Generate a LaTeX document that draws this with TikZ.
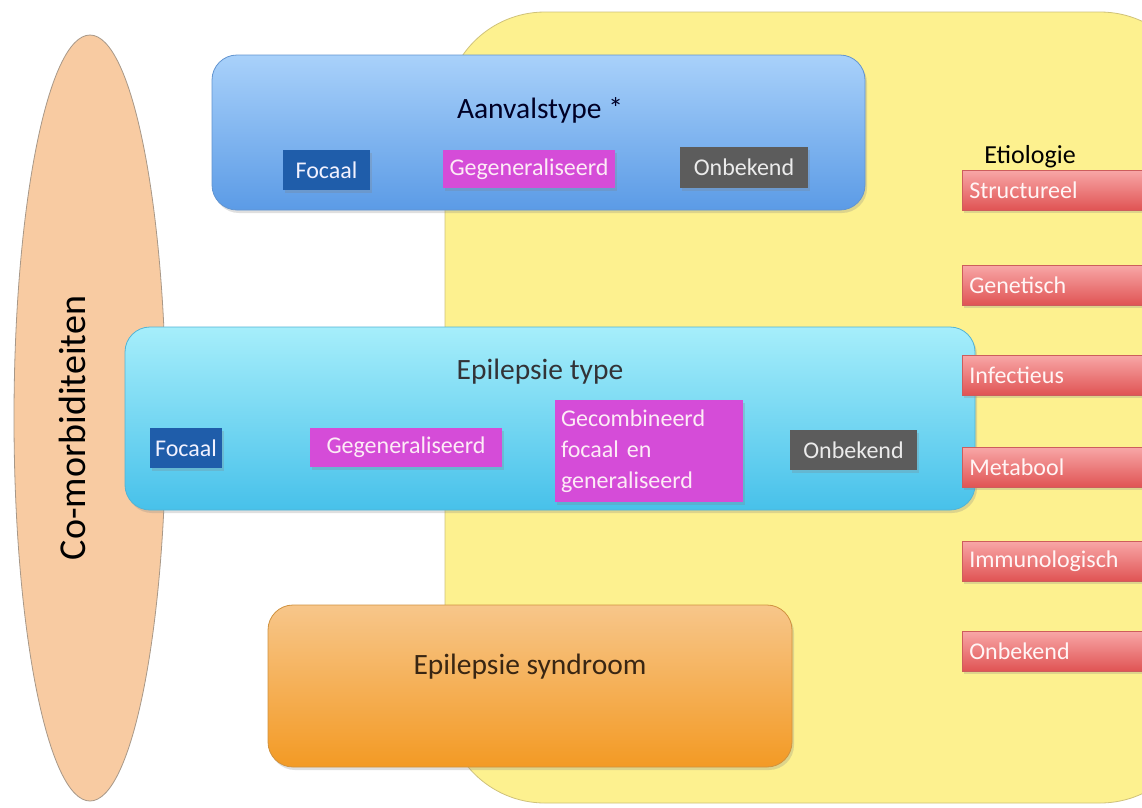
\documentclass[tikz,border=0pt]{standalone}
\usepackage{fontspec}
\setmainfont{Carlito}
\usepackage{xcolor}
\usepackage{tikz}
\usetikzlibrary{positioning, shapes.geometric, shadows}
\definecolor{etioyellow}{HTML}{FDF18F}
\definecolor{etioedge}{HTML}{CFC27A}
\definecolor{comorbfill}{HTML}{F8CBA2}
\definecolor{comorbedge}{HTML}{A89888}
\definecolor{aanvaltop}{HTML}{A9D1FA}
\definecolor{aanvalbot}{HTML}{5B9BE6}
\definecolor{typetop}{HTML}{A6EEFB}
\definecolor{typebot}{HTML}{47C1EA}
\definecolor{syndrtop}{HTML}{F7C68A}
\definecolor{syndrbot}{HTML}{F39A24}
\definecolor{causetop}{HTML}{F8A7A7}
\definecolor{causebot}{HTML}{E05454}
\definecolor{focalblue}{HTML}{1F5DAA}
\definecolor{generalmag}{HTML}{D54CD8}
\definecolor{unknowngray}{HTML}{5C5C5C}
\newcommand{\titlesize}{\fontsize{29.5}{33}\selectfont}
\newcommand{\itemsize}{\fontsize{24}{31}\selectfont}
\tikzset{
    epilepsie/.style={
        x=1pt, y=-1pt,
        softshadow/.style={drop shadow={shadow xshift=2pt, shadow yshift=-3pt, opacity=0.25}},
        groupbox/.style={draw, rounded corners=25pt, line width=0.8pt, softshadow},
        aanvalbox/.style={groupbox, top color=aanvaltop, bottom color=aanvalbot, draw=aanvalbot!80!gray},
        typebox/.style={groupbox, top color=typetop, bottom color=typebot, draw=typebot!80!gray},
        syndrbox/.style={groupbox, top color=syndrtop, bottom color=syndrbot, draw=syndrbot!70!gray},
        grouptitle/.style={font=\titlesize, inner sep=0pt},
        itembox/.style={font=\itemsize, inner sep=0pt, softshadow},
        focalbox/.style={itembox, fill=focalblue, text=blue!5},
        generalbox/.style={itembox, fill=generalmag, text=magenta!8},
        unknownbox/.style={itembox, fill=unknowngray, text=white!92!black},
        causebox/.style={itembox, anchor=west, top color=causetop, bottom color=causebot,
            draw=causebot!80!gray, line width=0.5pt, minimum height=40pt,
            text width=186pt, inner xsep=7pt, align=left, text=red!4}
    }
}
\begin{document}
\begin{tikzpicture}[epilepsie]
    \useasboundingbox (0,0) rectangle (1142,807);
    \fill[white] (0,0) rectangle (1142,807);

    % Etiologie area
    \draw[fill=etioyellow, draw=etioedge, line width=0.8pt, rounded corners=100pt]
        (445,12) rectangle (1200,803);
    \node[font=\fontsize{26}{30}\selectfont, inner sep=0pt] (etio) at (1030,157) {Etiologie};

    % Co-morbiditeiten
    \node[ellipse, fill=comorbfill, draw=comorbedge, line width=0.8pt,
        minimum width=152pt, minimum height=766pt, inner sep=0pt] (comorb) at (90,418) {};
    \node[rotate=90, font=\fontsize{38}{42}\selectfont, inner sep=0pt] (comorbtxt) at (72,428) {Co-morbiditeiten};

    % Aanvalstype
    \node[aanvalbox, minimum width=653pt, minimum height=155pt] (aanval) at (538.5,132.5) {};
    \node[grouptitle, text=blue!15!black] (aanvaltitle) at (540,110) {Aanvalstype *};
    \node[focalbox, minimum width=87pt, minimum height=40pt] (afocaal) at (326.5,170) {Focaal};
    \node[generalbox, minimum width=172pt, minimum height=38pt] (agegen) at (529,169) {Gegeneraliseerd};
    \node[unknownbox, minimum width=128pt, minimum height=41pt] (aonbek) at (744,167.5) {Onbekend};

    % Epilepsie type
    \node[typebox, minimum width=850pt, minimum height=183pt] (eptype) at (550,418.5) {};
    \node[grouptitle, text=cyan!10!black] (eptypetitle) at (540,372) {Epilepsie type};
    \node[focalbox, minimum width=72pt, minimum height=40pt] (efocaal) at (186,448) {Focaal};
    \node[generalbox, minimum width=192pt, minimum height=39pt] (egegen) at (406,447.5) {Gegeneraliseerd};
    \node[generalbox, minimum height=102pt, text width=176pt, inner xsep=6pt, align=left] (ecomb) at (649,451)
        {Gecombineerd\\focaal en\\generaliseerd};
    \node[unknownbox, minimum width=127pt, minimum height=40pt] (eonbek) at (853.5,450) {Onbekend};

    % Epilepsie syndroom
    \node[syndrbox, minimum width=524pt, minimum height=162pt] (syndr) at (530,686) {};
    \node[grouptitle, text=brown!30!black] (syndrtitle) at (530,667) {Epilepsie syndroom};

    % Oorzaken
    \foreach \oorzaak/\y in {Structureel/190, Genetisch/285, Infectieus/375,
                             Metabool/467, Immunologisch/561, Onbekend/651}
        \node[causebox] (oorzaak-\y) at (962,\y) {\oorzaak};
\end{tikzpicture}
\end{document}
